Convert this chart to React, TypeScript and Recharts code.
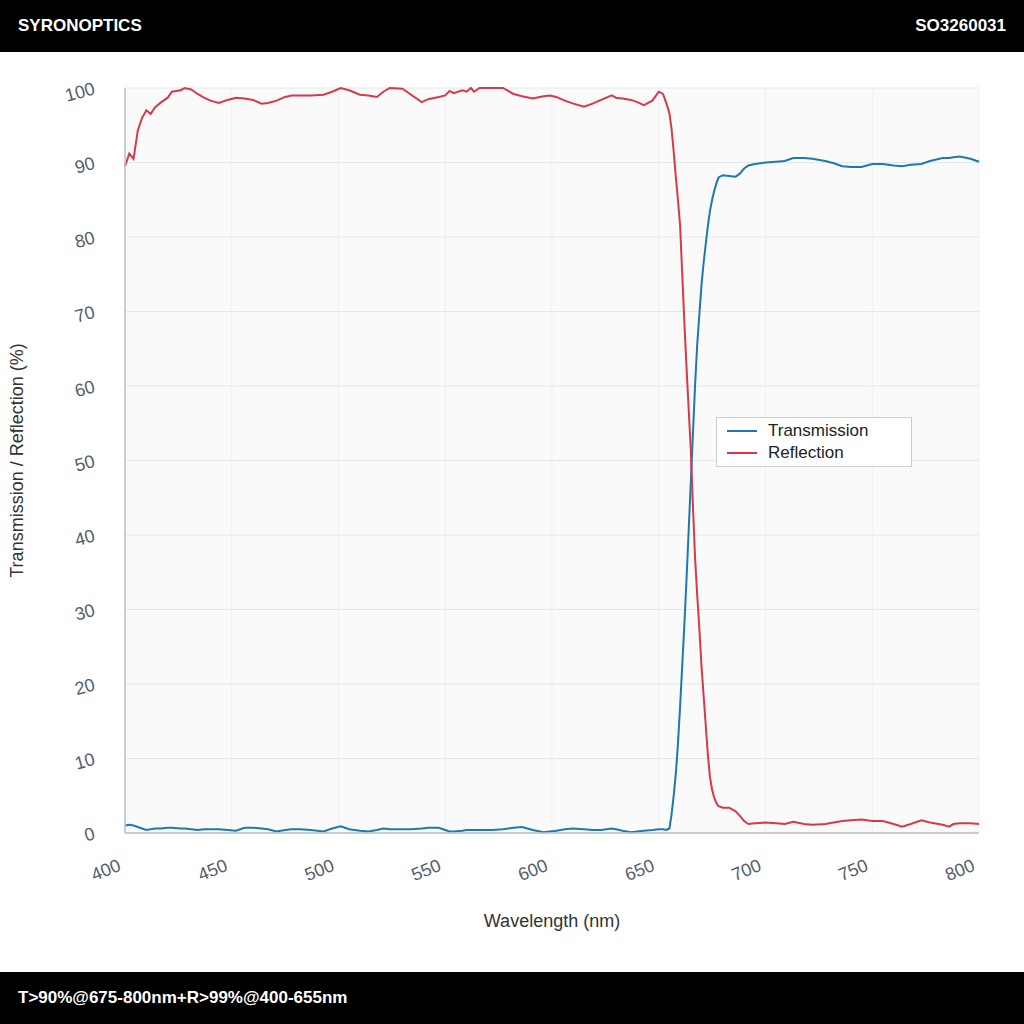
import { LineChart, Line, XAxis, YAxis, CartesianGrid, Legend } from 'recharts';

// wavelength samples (nm)
const wavelengths = [
  400, 402, 404, 406, 408, 410, 412, 414, 417, 420, 422, 426, 428, 431, 434, 437, 440, 444, 448, 452,
  456, 460, 464, 467, 471, 475, 478, 482, 487, 493, 497, 501, 505, 510, 514, 518, 521, 524, 530, 534,
  539, 542, 547, 550, 552, 554, 558, 560, 562, 563.5, 566, 572, 577, 582, 586, 591, 596, 599, 602, 606,
  610, 615, 619, 623, 628, 630, 633, 637, 640, 643, 647, 650, 652, 653.5, 655, 656, 657, 658, 659, 660,
  661, 662, 663, 664, 665, 666, 667, 668, 669, 670, 671, 672, 673, 674, 675, 676, 677, 678, 680, 683,
  686, 688, 690, 692, 695, 700, 705, 709, 713, 718, 722, 728, 732, 736, 740, 745, 750, 755, 760, 764,
  768, 773, 777, 783, 786, 788, 791, 796, 800,
];

const transmission = [
  1.0, 1.1, 1.0, 0.8, 0.6, 0.4, 0.5, 0.6, 0.6, 0.7, 0.7, 0.6, 0.6, 0.5, 0.4, 0.5, 0.5, 0.5, 0.4, 0.3,
  0.7, 0.7, 0.6, 0.5, 0.2, 0.4, 0.5, 0.5, 0.4, 0.2, 0.6, 0.9, 0.5, 0.3, 0.2, 0.4, 0.6, 0.5, 0.5, 0.5,
  0.6, 0.7, 0.7, 0.4, 0.2, 0.2, 0.3, 0.4, 0.4, 0.4, 0.4, 0.4, 0.5, 0.7, 0.8, 0.4, 0.1, 0.2, 0.3, 0.5,
  0.6, 0.5, 0.4, 0.4, 0.6, 0.5, 0.3, 0.1, 0.2, 0.3, 0.4, 0.5, 0.5, 0.4, 0.6, 2.5, 5.0, 8.0, 12.0, 17.0,
  22.5, 28.0, 34.0, 40.5, 47.0, 53.5, 60.0, 65.5, 69.5, 73.5, 76.5, 79.0, 81.5, 83.5, 85.0, 86.2, 87.2, 88.0, 88.3, 88.2,
  88.1, 88.5, 89.2, 89.6, 89.8, 90.0, 90.1, 90.2, 90.6, 90.6, 90.5, 90.2, 89.9, 89.5, 89.4, 89.4, 89.8, 89.8, 89.6, 89.5,
  89.7, 89.8, 90.2, 90.6, 90.6, 90.7, 90.8, 90.5, 90.1,
];

const reflection = [
  89.5, 91.2, 90.5, 94.3, 96.0, 97.0, 96.5, 97.4, 98.1, 98.7, 99.5, 99.7, 100.0, 99.8, 99.2, 98.7, 98.3, 98.0, 98.4, 98.7,
  98.6, 98.4, 97.9, 98.0, 98.3, 98.8, 99.0, 99.0, 99.0, 99.1, 99.5, 100.0, 99.7, 99.1, 99.0, 98.8, 99.5, 100.0, 99.9, 99.1,
  98.1, 98.5, 98.8, 99.0, 99.6, 99.3, 99.7, 99.5, 100.0, 99.5, 100.0, 100.0, 100.0, 99.2, 98.9, 98.6, 98.9, 99.0, 98.8, 98.3,
  97.9, 97.5, 97.9, 98.4, 99.0, 98.7, 98.6, 98.4, 98.1, 97.7, 98.3, 99.5, 99.2, 98.0, 96.6, 94.5, 91.5, 88.0, 85.0, 81.5,
  75.0, 68.5, 62.5, 57.0, 51.5, 44.0, 37.0, 32.0, 27.5, 22.5, 18.5, 14.5, 10.5, 7.5, 5.8, 4.7, 4.0, 3.6, 3.4, 3.4,
  2.9, 2.3, 1.6, 1.2, 1.3, 1.4, 1.3, 1.2, 1.5, 1.2, 1.1, 1.2, 1.4, 1.6, 1.7, 1.8, 1.6, 1.6, 1.2, 0.85,
  1.2, 1.7, 1.4, 1.1, 0.85, 1.2, 1.3, 1.3, 1.2,
];

const xTicks = [400, 450, 500, 550, 600, 650, 700, 750, 800];
const yTicks = [0, 10, 20, 30, 40, 50, 60, 70, 80, 90, 100];
const legendOrder = ['Transmission', 'Reflection'];

const FONT = '"Liberation Sans", Arial, Helvetica, sans-serif';
const BLUE = '#1f77b4';
const RED = '#d7394b';
const TICK_COLOR = '#535d6b';

const data = wavelengths.map((w, i) => ({
  wavelength: w,
  transmission: transmission[i],
  reflection: reflection[i],
}));

const XTick = ({ x, y, payload }: any) => {
  const ax = x - 3;
  const ay = y + 37;
  return (
    <text x={ax} y={ay} transform={`rotate(-22 ${ax} ${ay})`} textAnchor="end" fill={TICK_COLOR} fontSize={18} fontFamily={FONT}>
      {payload.value}
    </text>
  );
};

const YTick = ({ x, y, payload }: any) => {
  const ax = x - 29;
  const ay = y + 6;
  return (
    <text x={ax} y={ay} transform={`rotate(-15 ${ax} ${ay})`} textAnchor="end" fill={TICK_COLOR} fontSize={18} fontFamily={FONT}>
      {payload.value}
    </text>
  );
};

const LegendBox = ({ payload }: any) => {
  const items = [...(payload || [])].sort(
    (a: any, b: any) => legendOrder.indexOf(a.value) - legendOrder.indexOf(b.value)
  );
  return (
    <div
      style={{
        width: 194,
        height: 46,
        border: '1px solid #c9cdd6',
        background: '#fff',
        boxSizing: 'content-box',
        fontFamily: FONT,
        fontSize: 17,
        color: '#222',
        paddingTop: 2,
      }}
    >
      {items.map((entry: any) => (
        <div key={entry.value} style={{ display: 'flex', alignItems: 'center', height: 22 }}>
          <div style={{ width: 30, height: 2, background: entry.color, marginLeft: 10, marginRight: 11 }} />
          <span>{entry.value}</span>
        </div>
      ))}
    </div>
  );
};

const barStyle = {
  position: 'absolute' as const,
  left: 0,
  width: 1024,
  height: 52,
  background: '#000',
  color: '#fff',
  fontFamily: FONT,
  fontWeight: 700,
  fontSize: 17,
  display: 'flex',
  alignItems: 'center',
  justifyContent: 'space-between',
  padding: '0 18px',
  boxSizing: 'border-box' as const,
};

export default function App() {
  return (
    <div style={{ position: 'absolute', top: 0, left: 0, width: 1024, height: 1024, background: '#fff', overflow: 'hidden' }}>
      <div style={{ ...barStyle, top: 0 }}>
        <span>SYRONOPTICS</span>
        <span>SO3260031</span>
      </div>

      <div style={{ position: 'absolute', top: 52, left: 0 }}>
        <LineChart width={1024} height={920} data={data} margin={{ top: 36, right: 45, bottom: 0, left: 0 }}>
          <CartesianGrid horizontal={false} stroke="#eff1f4" fill="#fafafa" />
          <CartesianGrid vertical={false} stroke="#e4e7ec" />
          <XAxis
            dataKey="wavelength"
            type="number"
            domain={[400, 800]}
            ticks={xTicks}
            height={139}
            tickSize={0}
            tickMargin={0}
            tickLine={false}
            axisLine={{ stroke: '#b9c0ca', strokeWidth: 1.5 }}
            tick={<XTick />}
            label={{
              value: 'Wavelength (nm)',
              position: 'insideBottom',
              offset: 45,
              fill: '#333',
              fontSize: 18,
              fontFamily: FONT,
            }}
          />
          <YAxis
            type="number"
            domain={[0, 100]}
            ticks={yTicks}
            width={125}
            tickSize={0}
            tickMargin={0}
            tickLine={false}
            axisLine={{ stroke: '#b9c0ca', strokeWidth: 1.5 }}
            tick={<YTick />}
            label={{
              value: 'Transmission / Reflection (%)',
              angle: -90,
              position: 'insideLeft',
              offset: 17,
              fill: '#333',
              fontSize: 18,
              fontFamily: FONT,
              style: { textAnchor: 'middle' },
            }}
          />
          <Legend
            layout="vertical"
            align="center"
            verticalAlign="middle"
            content={<LegendBox />}
            wrapperStyle={{ left: 716, top: 365, width: 196, height: 50 }}
          />
          <Line
            type="linear"
            dataKey="transmission"
            name="Transmission"
            stroke={BLUE}
            strokeWidth={2}
            dot={false}
            isAnimationActive={false}
          />
          <Line
            type="linear"
            dataKey="reflection"
            name="Reflection"
            stroke={RED}
            strokeWidth={2}
            dot={false}
            isAnimationActive={false}
          />
        </LineChart>
      </div>

      <div style={{ ...barStyle, top: 972 }}>
        <span>T&gt;90%@675-800nm+R&gt;99%@400-655nm</span>
      </div>
    </div>
  );
}
